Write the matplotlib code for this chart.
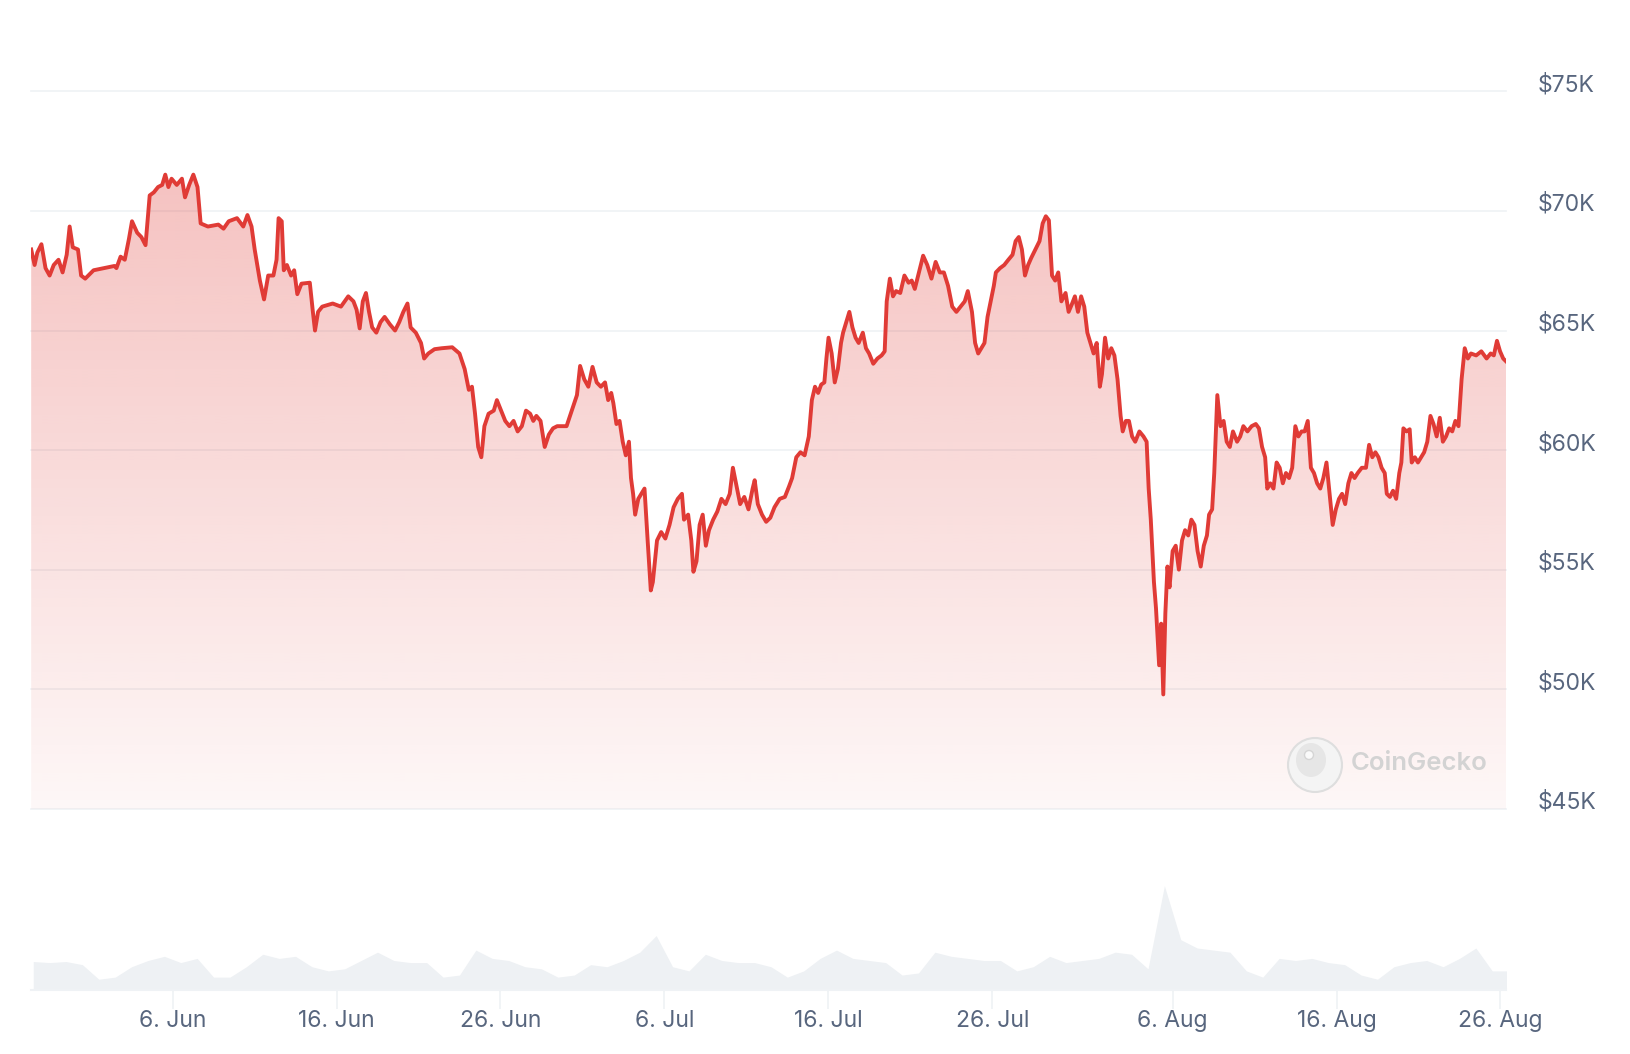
import numpy as np
import pandas as pd
import matplotlib
matplotlib.use("Agg")
import matplotlib.pyplot as plt
import matplotlib.dates as mdates
from matplotlib.patches import Ellipse
from matplotlib.ticker import FuncFormatter, FixedLocator

plt.rcParams['font.family'] = ['Inter', 'DejaVu Sans']

# ---------------- data ----------------
start = pd.Timestamp("2024-05-28 00:00")
# hours since start
price_hours = [9, 14, 18, 24, 30, 36, 42, 49, 55, 61, 65.3, 69.9, 77.5, 82.1, 88.1, 100.3, 115.5, 130.8, 133.8,
               139.9, 146.0, 152.1, 156.6, 164.2, 170.3, 176.4, 182.5, 188.6, 194.7, 200.8, 205.3, 209.9, 214.5,
               222.1, 229.7, 234.2, 240.3, 246.4, 252.5, 257.1, 267.7, 283.0, 290.6, 298.2, 310.3, 319.5, 325.6,
               331.6, 336.2, 343.8, 349.9, 356.0, 363.6, 368.2, 371.2, 375.8, 378.8, 383.4, 389.5, 394.0, 398.6,
               404.7, 416.9, 421.4, 424.5, 429.0, 435.1, 450.4, 462.5, 473.2, 480.8, 485.4, 489.9, 494.5, 499.1,
               503.6, 508.2, 514.3, 520.4, 526.4, 534.1, 541.7, 547.8, 553.8, 559.9, 564.5, 572.1, 579.7, 584.3,
               590.4, 599.5, 610.2, 625.4, 636.0, 643.6, 649.7, 654.3, 658.8, 663.4, 668.0, 672.5, 678.6, 686.2,
               690.8, 696.9, 703.0, 709.1, 715.2, 721.2, 727.3, 733.4, 739.5, 744.1, 748.6, 754.7, 760.8, 766.9,
               773.0, 779.1, 792.8, 800.4, 808.0, 812.6, 818.7, 824.7, 830.8, 836.9, 843.0, 849.1, 853.7, 858.2,
               861.3, 865.8, 870.4, 875.0, 879.5, 884.1, 887.1, 890.2, 893.2, 897.8, 902.3, 906.9, 911.5, 916.1,
               919.1, 925.2, 931.3, 937.4, 943.5, 949.5, 955.6, 961.7, 964.7, 970.8, 975.4, 978.5, 983.0, 987.6,
               992.1, 996.7, 1001.3, 1007.4, 1013.5, 1019.5, 1025.6, 1031.7, 1036.3, 1040.8, 1046.9, 1053.0,
               1059.1, 1065.2, 1068.2, 1072.8, 1078.9, 1085.0, 1091.1, 1097.2, 1104.8, 1112.4, 1118.5, 1123.0,
               1129.1, 1135.2, 1141.3, 1147.4, 1151.9, 1156.5, 1161.1, 1165.6, 1170.2, 1173.2, 1176.3, 1180.9,
               1185.4, 1190.0, 1194.6, 1197.6, 1202.2, 1206.8, 1211.3, 1215.9, 1220.4, 1226.5, 1231.1, 1235.7,
               1241.8, 1247.9, 1254.0, 1258.5, 1261.5, 1266.1, 1270.7, 1275.2, 1281.3, 1287.4, 1293.5, 1298.1,
               1302.6, 1308.7, 1314.8, 1320.9, 1327.0, 1333.1, 1339.2, 1345.2, 1351.3, 1357.4, 1363.5, 1369.6,
               1375.7, 1380.2, 1386.3, 1390.9, 1395.4, 1400.0, 1404.6, 1409.1, 1413.7, 1418.3, 1421.3, 1427.4,
               1433.5, 1439.6, 1445.7, 1450.2, 1454.8, 1459.4, 1463.9, 1468.5, 1473.1, 1479.2, 1485.2, 1489.8,
               1494.4, 1498.9, 1503.5, 1508.1, 1512.6, 1517.2, 1523.3, 1527.8, 1532.4, 1537.0, 1541.5, 1546.1,
               1550.7, 1555.2, 1559.8, 1564.4, 1568.9, 1573.5, 1576.6, 1581.1, 1585.7, 1590.3, 1594.8, 1599.4,
               1603.9, 1607.0, 1611.6, 1616.1, 1620.7, 1625.3, 1631.4, 1637.4, 1642.0, 1645.0, 1648.1, 1652.7,
               1655.7, 1660.3, 1663.3, 1666.4, 1669.4, 1672.5, 1675.5, 1680.1, 1684.6, 1689.2, 1693.8, 1698.3,
               1702.9, 1707.5, 1712.0, 1716.6, 1721.2, 1725.7, 1730.3, 1733.4, 1737.9, 1741.0, 1745.5, 1750.1,
               1754.7, 1759.2, 1763.8, 1768.4, 1774.4, 1779.0, 1783.6, 1789.6, 1795.7, 1801.8, 1806.4, 1811.0,
               1815.5, 1818.6, 1823.1, 1827.7, 1832.3, 1836.8, 1841.4, 1846.0, 1850.5, 1855.1, 1859.7, 1864.2,
               1868.8, 1873.3, 1877.9, 1882.5, 1887.0, 1891.6, 1896.2, 1900.7, 1905.3, 1909.9, 1914.4, 1919.0,
               1923.6, 1928.1, 1932.7, 1937.3, 1941.8, 1946.4, 1951.0, 1957.0, 1963.1, 1967.7, 1972.4, 1976.9,
               1981.4, 1986.0, 1990.6, 1993.6, 1998.2, 2002.7, 2007.3, 2011.9, 2014.9, 2017.9, 2022.5, 2027.1,
               2030.1, 2034.7, 2039.2, 2043.8, 2048.3, 2052.9, 2057.5, 2062.0, 2066.6, 2071.2, 2075.7, 2080.3,
               2084.9, 2089.4, 2094.0, 2098.6, 2103.1, 2107.7, 2112.3, 2116.8, 2124.4, 2132.0, 2139.7, 2145.7,
               2150.3, 2154.9, 2159.4, 2164.0, 2168.6]
# price in thousands of USD
price_k = [68.39, 67.74, 68.26, 68.61, 67.61, 67.30, 67.74, 67.96, 67.43, 68.17, 69.35, 68.48, 68.39, 67.30,
           67.17, 67.52, 67.61, 67.70, 67.61, 68.09, 67.96, 68.83, 69.57, 69.09, 68.91, 68.57, 70.65, 70.78,
           71.00, 71.09, 71.52, 71.00, 71.35, 71.09, 71.35, 70.57, 71.09, 71.52, 71.00, 69.48, 69.35, 69.43,
           69.26, 69.57, 69.70, 69.35, 69.83, 69.35, 68.39, 67.09, 66.30, 67.30, 67.30, 67.96, 69.70, 69.57,
           67.52, 67.74, 67.30, 67.52, 66.52, 66.96, 67.00, 65.78, 65.00, 65.78, 66.00, 66.13, 66.00, 66.43,
           66.22, 65.87, 65.09, 66.22, 66.57, 65.78, 65.13, 64.91, 65.35, 65.57, 65.26, 65.00, 65.35, 65.78,
           66.13, 65.13, 64.91, 64.48, 63.83, 64.04, 64.22, 64.26, 64.30, 64.04, 63.39, 62.52, 62.65, 61.52,
           60.13, 59.70, 61.00, 61.52, 61.65, 62.09, 61.65, 61.22, 61.00, 61.22, 60.78, 61.00, 61.65, 61.52,
           61.22, 61.43, 61.22, 60.13, 60.65, 60.91, 61.00, 61.00, 61.65, 62.30, 63.52, 62.96, 62.65, 63.48,
           62.83, 62.65, 62.83, 62.09, 62.39, 61.96, 61.09, 61.22, 60.35, 59.78, 60.35, 58.83, 58.17, 57.30,
           57.96, 58.17, 58.39, 56.22, 54.13, 54.48, 56.22, 56.57, 56.30, 56.87, 57.61, 57.96, 58.17, 57.09,
           57.30, 56.22, 54.91, 55.35, 56.87, 57.30, 56.00, 56.65, 57.09, 57.43, 57.96, 57.74, 58.17, 59.26,
           58.61, 57.74, 58.04, 57.52, 58.39, 58.74, 57.74, 57.30, 57.00, 57.17, 57.61, 57.96, 58.04, 58.48,
           58.83, 59.70, 59.91, 59.78, 60.57, 62.09, 62.65, 62.39, 62.74, 62.83, 63.83, 64.70, 64.04, 62.83,
           63.39, 64.48, 64.91, 65.35, 65.78, 65.13, 64.70, 64.48, 64.91, 64.26, 64.04, 63.61, 63.83, 63.96,
           64.13, 66.22, 67.17, 66.43, 66.65, 66.57, 67.30, 67.00, 67.09, 66.74, 67.43, 68.13, 67.74, 67.17,
           67.87, 67.43, 67.43, 66.87, 66.00, 65.78, 66.00, 66.22, 66.65, 65.78, 64.48, 64.04, 64.26, 64.48,
           65.57, 66.22, 66.87, 67.43, 67.61, 67.74, 67.96, 68.17, 68.74, 68.91, 68.39, 67.30, 67.74, 68.04,
           68.39, 68.74, 69.48, 69.78, 69.61, 67.30, 67.09, 67.43, 66.22, 66.57, 65.78, 66.09, 66.43, 65.78,
           66.43, 66.00, 64.91, 64.48, 64.04, 64.48, 62.65, 63.17, 64.70, 63.83, 64.26, 63.96, 62.96, 61.43,
           60.78, 61.22, 61.22, 60.57, 60.35, 60.78, 60.57, 60.35, 58.39, 57.09, 54.48, 53.39, 51.00, 52.74,
           49.78, 53.17, 55.13, 54.26, 55.78, 56.00, 55.00, 56.22, 56.65, 56.43, 57.09, 56.87, 55.78, 55.13,
           56.00, 56.43, 57.30, 57.52, 59.04, 62.30, 61.00, 61.22, 60.35, 60.13, 60.78, 60.35, 60.57, 61.00,
           60.78, 61.00, 61.09, 60.91, 60.13, 59.70, 58.39, 58.61, 58.39, 59.48, 59.26, 58.61, 59.04, 58.83,
           59.26, 61.00, 60.57, 60.78, 60.78, 61.22, 59.26, 59.04, 58.61, 58.39, 58.83, 59.48, 58.17, 56.87,
           57.52, 57.96, 58.17, 57.74, 58.61, 59.04, 58.83, 59.04, 59.26, 59.26, 60.22, 59.70, 59.91, 59.70,
           59.26, 59.04, 58.17, 58.04, 58.30, 57.96, 59.04, 59.48, 60.91, 60.78, 60.87, 59.48, 59.70, 59.48,
           59.70, 59.91, 60.35, 61.43, 61.09, 60.57, 61.35, 60.35, 60.57, 60.91, 60.78, 61.22, 61.00, 62.96,
           64.26, 63.83, 64.04, 63.96, 64.13, 63.83, 64.04, 63.96, 64.57, 64.13, 63.83, 63.70]

# daily volume (billions USD), one value per day at noon from 28 May
volume_b = [27, 26, 27, 24, 10, 12, 22, 28, 32, 26, 30, 12, 12, 22, 34, 30, 32, 22, 18, 20, 28, 36, 28, 26,
            26, 12, 14, 38, 30, 28, 22, 20, 12, 14, 24, 22, 28, 36, 52, 22, 18, 34, 28, 26, 26, 22, 12, 18,
            30, 38, 30, 28, 26, 14, 16, 36, 32, 30, 28, 28, 18, 22, 32, 26, 28, 30, 36, 34, 20, 100, 48, 40,
            38, 36, 18, 12, 30, 28, 30, 26, 24, 14, 10, 22, 26, 28, 22, 30, 40, 18, 18]

y_ticks_k = [45, 50, 55, 60, 65, 70, 75]
x_tick_dates = ["2024-06-06", "2024-06-16", "2024-06-26", "2024-07-06", "2024-07-16",
                "2024-07-26", "2024-08-06", "2024-08-16", "2024-08-26"]

# ---------------- styling ----------------
RED = "#e03b36"
GRID = "#eff2f5"
LABEL = "#58667e"
VOLC = "#eef1f4"

times = start + pd.to_timedelta(np.array(price_hours), unit="h")
prices = np.array(price_k) * 1000.0
vol_times = start + pd.to_timedelta(np.arange(len(volume_b)) * 24 + 12, unit="h")
vols = np.array(volume_b, dtype=float)

fig = plt.figure(figsize=(16.30, 10.54), dpi=100)
fig.patch.set_facecolor("white")

L, W = 0.01913, 0.9050
ax = fig.add_axes([L, 0.2327, W, 0.7279])
axv = fig.add_axes([L, 0.0611, W, 0.1105], sharex=ax)

xnum = mdates.date2num(times)
xmin, xmax = xnum[0], xnum[-1]

ymin, ymax = 45000, 77087
ax.set_xlim(xmin, xmax)
ax.set_ylim(ymin, ymax)

# gradient fill under the line
poly = ax.fill_between(xnum, prices, ymin, color="none", lw=0)
grad_y = np.linspace(ymin, ymax, 256)
alpha = 0.04 + 0.27 * np.clip((grad_y - ymin) / (71500 - ymin), 0, 1)
rgba = np.zeros((256, 1, 4))
r, g, b = matplotlib.colors.to_rgb(RED)
rgba[:, 0, 0], rgba[:, 0, 1], rgba[:, 0, 2] = r, g, b
rgba[:, 0, 3] = alpha
img = ax.imshow(rgba, extent=[xmin, xmax, ymin, ymax], origin="lower", aspect="auto", zorder=1,
                interpolation="bilinear")
img.set_clip_path(poly.get_paths()[0], transform=ax.transData)
ax.set_xlim(xmin, xmax)
ax.set_ylim(ymin, ymax)

for yk in y_ticks_k:
    ax.axhline(yk * 1000, color=GRID, lw=1.2, zorder=0.5, clip_on=False)
    ax.annotate(f"${yk}K", xy=(1, yk * 1000), xycoords=("axes fraction", "data"),
                xytext=(22.5, 4.5), textcoords="offset points", ha="left", va="center",
                fontsize=16.5, color=LABEL, annotation_clip=False)

ax.plot(xnum, prices, color=RED, lw=2.8, zorder=3, solid_joinstyle="round")

ax.set_yticks([])
ax.tick_params(axis="x", length=0, labelbottom=False)
for s in ax.spines.values():
    s.set_visible(False)
ax.set_facecolor("none")

# volume
axv.fill_between(mdates.date2num(vol_times), vols, 0, color=VOLC, lw=0)
axv.set_ylim(0, 112)
axv.set_xlim(xmin, xmax)
axv.set_yticks([])
for name, s in axv.spines.items():
    s.set_visible(name == "bottom")
axv.spines["bottom"].set_color(GRID)
axv.spines["bottom"].set_linewidth(1.5)
xt = mdates.date2num(pd.to_datetime(x_tick_dates))
axv.xaxis.set_major_locator(FixedLocator(xt))
axv.xaxis.set_major_formatter(FuncFormatter(lambda v, p: f"{mdates.num2date(v).day}. {mdates.num2date(v).strftime('%b')}"))
axv.tick_params(axis="x", length=14, width=1.2, color=GRID, pad=0.8, labelsize=16.5, labelcolor=LABEL)
axv.set_facecolor("none")

# watermark
fig.patches.append(Ellipse((1315 / 1630, 1 - 765 / 1054), 54 / 1630, 54 / 1054, transform=fig.transFigure,
                           facecolor="#f4f4f4", edgecolor="#dedede", lw=1.5, zorder=5))
fig.patches.append(Ellipse((1311 / 1630, 1 - 760 / 1054), 30 / 1630, 34 / 1054, transform=fig.transFigure,
                           facecolor="#e6e6e6", edgecolor="none", zorder=6))
fig.patches.append(Ellipse((1309 / 1630, 1 - 755 / 1054), 9 / 1630, 9 / 1054, transform=fig.transFigure,
                           facecolor="#fafafa", edgecolor="#d5d5d5", lw=1, zorder=7))
fig.text(1351 / 1630, 1 - 764 / 1054, "CoinGecko", fontsize=18.5, fontweight="semibold", color="#d3d3d3",
         ha="left", va="center")

fig.savefig("out.png", dpi=100, facecolor="white")
